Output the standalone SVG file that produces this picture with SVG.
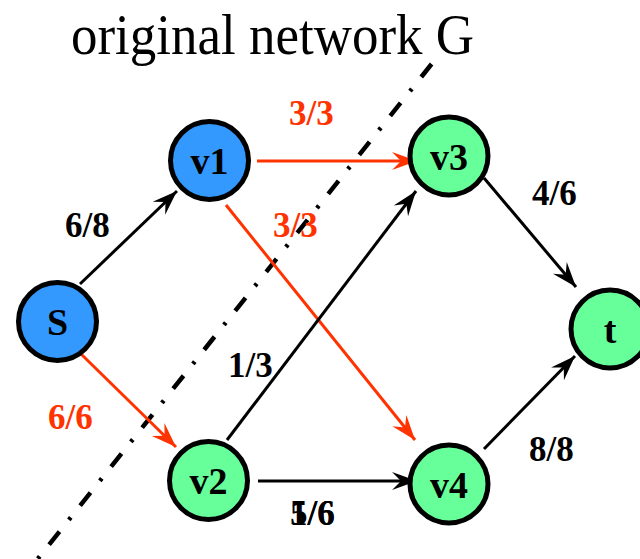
<svg xmlns="http://www.w3.org/2000/svg" width="640" height="559" viewBox="0 0 640 559">
<style>
.title{font-family:"Liberation Serif","Times New Roman",serif;font-size:57px;fill:#000}
.lbl{font-family:"Liberation Serif","Times New Roman",serif;font-weight:bold;font-size:35px}
.nl{font-family:"Liberation Serif","Times New Roman",serif;font-weight:bold;font-size:38px;text-anchor:middle;fill:#000}
.blue{fill:#3399ff;stroke:#000;stroke-width:5}
.green{fill:#66ff99;stroke:#000;stroke-width:5}
.e{stroke:#000;stroke-width:3;fill:none;marker-end:url(#ab)}
.r{stroke:#ff3300;stroke-width:3;fill:none;marker-end:url(#ar)}
.k{fill:#000}
.rd{fill:#ff3300}
</style>
<defs>
<marker id="ab" markerUnits="userSpaceOnUse" markerWidth="30" markerHeight="20" viewBox="-26 -10 28 20" refX="0" refY="0" orient="auto">
<path d="M0,0 L-25,-9 L-16,0 L-25,9 Z" fill="#000"/>
</marker>
<marker id="ar" markerUnits="userSpaceOnUse" markerWidth="30" markerHeight="20" viewBox="-26 -10 28 20" refX="0" refY="0" orient="auto">
<path d="M0,0 L-25,-9 L-16,0 L-25,9 Z" fill="#ff3300"/>
</marker>
</defs>
<rect width="640" height="559" fill="#fff"/>
<text class="title" x="71" y="54" textLength="403" lengthAdjust="spacingAndGlyphs">original network G</text>
<line x1="431.6" y1="64" x2="34" y2="563.6" stroke="#000" stroke-width="4.5" stroke-dasharray="16.6 15.1 3 15.1"/>
<g id="connectors">
<line class="e" x1="80" y1="284" x2="177" y2="191"/>
<line class="r" x1="80" y1="353" x2="176" y2="447"/>
<line class="r" x1="257" y1="161" x2="417" y2="161"/>
<line class="r" x1="226" y1="205" x2="415" y2="440"/>
<line class="e" x1="227" y1="440" x2="416" y2="191"/>
<line class="e" x1="258" y1="481" x2="417" y2="481"/>
<line class="e" x1="484" y1="178" x2="576" y2="287"/>
<line class="e" x1="484" y1="449" x2="575" y2="356"/>
<text class="lbl k" x="65" y="237">6/8</text>
<text class="lbl rd" x="48" y="429">6/6</text>
<text class="lbl rd" x="289" y="125">3/3</text>
<text class="lbl rd" x="273" y="237">3/3</text>
<text class="lbl k" x="532" y="205">4/6</text>
<text class="lbl k" x="529" y="461">8/8</text>
<text class="lbl k" x="228" y="377">1/3</text>
<text class="lbl k" x="290" y="525">1/6</text>
<text class="lbl k" x="290" y="525">5/6</text>
</g>
<g id="S"><circle class="blue" cx="57.5" cy="321.5" r="39"/><text class="nl" x="57.5" y="335">S</text></g>
<g id="v1"><circle class="blue" cx="209.5" cy="160.5" r="39"/><text class="nl" x="209.5" y="174">v1</text></g>
<g id="v2"><circle class="green" cx="208.5" cy="480.5" r="39"/><text class="nl" x="208.5" y="494">v2</text></g>
<g id="v3"><circle class="green" cx="449" cy="156" r="39"/><text class="nl" x="449" y="170">v3</text></g>
<g id="v4"><circle class="green" cx="449" cy="484" r="39"/><text class="nl" x="449" y="498">v4</text></g>
<g id="t"><circle class="green" cx="610" cy="329" r="39"/><text class="nl" x="610" y="343">t</text></g>
</svg>
